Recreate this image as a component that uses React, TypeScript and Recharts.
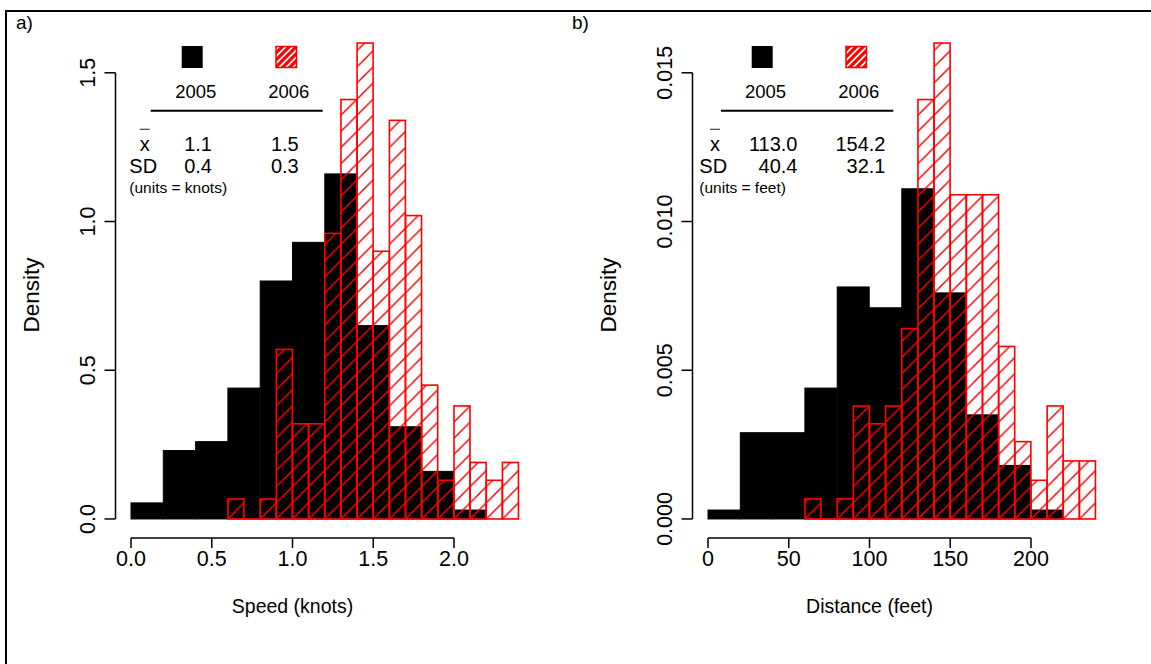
import React from "react";
import { ComposedChart, Bar, XAxis, YAxis, ReferenceLine } from "recharts";

// a) swimming speed (knots) – densities per bin
const speedEdges2005 = [0, 0.2, 0.4, 0.6, 0.8, 1.0, 1.2, 1.4, 1.6, 1.8, 2.0, 2.2];
const speedDensity2005 = [0.054, 0.23, 0.26, 0.44, 0.8, 0.93, 1.16, 0.65, 0.31, 0.16, 0.03];
const speedEdges2006 = [0.6, 0.7, 0.8, 0.9, 1.0, 1.1, 1.2, 1.3, 1.4, 1.5, 1.6, 1.7, 1.8, 1.9, 2.0, 2.1, 2.2, 2.3, 2.4];
const speedDensity2006 = [0.067, 0, 0.067, 0.57, 0.32, 0.32, 0.96, 1.41, 1.6, 0.9, 1.34, 1.02, 0.45, 0.13, 0.38, 0.19, 0.13, 0.19];
const speedTicks = [0, 0.5, 1, 1.5, 2];
const speedTickLabels = ["0.0", "0.5", "1.0", "1.5", "2.0"];
const speedDensTicks = [0, 0.5, 1, 1.5];
const speedDensLabels = ["0.0", "0.5", "1.0", "1.5"];

// b) distance (feet)
const distEdges2005 = [0, 20, 40, 60, 80, 100, 120, 140, 160, 180, 200, 220];
const distDensity2005 = [0.0003, 0.0029, 0.0029, 0.0044, 0.0078, 0.0071, 0.0111, 0.0076, 0.0035, 0.0018, 0.0003];
const distEdges2006 = [60, 70, 80, 90, 100, 110, 120, 130, 140, 150, 160, 170, 180, 190, 200, 210, 220, 230, 240];
const distDensity2006 = [0.00068, 0, 0.00068, 0.0038, 0.0032, 0.0038, 0.0064, 0.0141, 0.016, 0.0109, 0.0109, 0.0109, 0.0058, 0.0026, 0.0013, 0.0038, 0.00195, 0.00195];
const distTicks = [0, 50, 100, 150, 200];
const distTickLabels = ["0", "50", "100", "150", "200"];
const distDensTicks = [0, 0.005, 0.01, 0.015];
const distDensLabels = ["0.000", "0.005", "0.010", "0.015"];

// summary table
const years = ["2005", "2006"];
const speedMeans = ["1.1", "1.5"];
const speedSDs = ["0.4", "0.3"];
const distMeans = ["113.0", "154.2"];
const distSDs = ["40.4", "32.1"];

const W = 577;
const H = 664;
const PLOT = { left: 115.5, top: 24, width: 418.6, height: 514 };
const FONT = '"Liberation Sans", Arial, Helvetica, sans-serif';
const RED = "#ff0000";
const HATCH = 16.15;
const TICK_LABEL_BASE = 566;
const X_TITLE_BASE = 613;

type Panel = {
  key: string;
  offset: number;
  xDomain: [number, number];
  yDomain: [number, number];
  edgesBlack: number[];
  densBlack: number[];
  edgesRed: number[];
  densRed: number[];
  xTicks: number[];
  xLabels: string[];
  yTicks: number[];
  yLabels: string[];
  xTitle: string;
  tag: string;
  tagX: number;
  means: string[];
  sds: string[];
  units: string;
  box: { sqX: number[]; yearX: number[]; rule: number[]; labelX: number; xbarX: number; numRight: number[] };
};

const panels: Panel[] = [
  {
    key: "a",
    offset: 0,
    xDomain: [-0.096, 2.496],
    yDomain: [-0.064, 1.664],
    edgesBlack: speedEdges2005,
    densBlack: speedDensity2005,
    edgesRed: speedEdges2006,
    densRed: speedDensity2006,
    xTicks: speedTicks,
    xLabels: speedTickLabels,
    yTicks: speedDensTicks,
    yLabels: speedDensLabels,
    xTitle: "Speed (knots)",
    tag: "a)",
    tagX: 16,
    means: speedMeans,
    sds: speedSDs,
    units: "(units = knots)",
    box: { sqX: [181.7, 276], yearX: [195.8, 288.8], rule: [150.7, 322.7], labelX: 129.3, xbarX: 144.7, numRight: [212, 298.7] },
  },
  {
    key: "b",
    offset: 577,
    xDomain: [-9.6, 249.6],
    yDomain: [-0.00064, 0.01664],
    edgesBlack: distEdges2005,
    densBlack: distDensity2005,
    edgesRed: distEdges2006,
    densRed: distDensity2006,
    xTicks: distTicks,
    xLabels: distTickLabels,
    yTicks: distDensTicks,
    yLabels: distDensLabels,
    xTitle: "Distance (feet)",
    tag: "b)",
    tagX: 572,
    means: distMeans,
    sds: distSDs,
    units: "(units = feet)",
    box: { sqX: [751.7, 846], yearX: [765.5, 858.8], rule: [721, 893.3], labelX: 699.3, xbarX: 715, numRight: [797.5, 885.5] },
  },
];

function rows(edges: number[], dens: number[]) {
  return dens.map((d, i) => ({ bin: `${edges[i]}-${edges[i + 1]}`, lo: edges[i], d }));
}

function xPx(p: Panel, v: number) {
  const [x0, x1] = p.xDomain;
  return PLOT.left + ((v - x0) / (x1 - x0)) * PLOT.width;
}

function hatchShift(p: Panel) {
  const [y0, y1] = p.yDomain;
  const xc = xPx(p, p.edgesRed[0]);
  const yc = PLOT.top + (y1 / (y1 - y0)) * PLOT.height;
  return (xc + yc) % HATCH;
}

function Layer({ p, top }: { p: Panel; top: boolean }) {
  const edges = top ? p.edgesRed : p.edgesBlack;
  const dens = top ? p.densRed : p.densBlack;
  const [x0, x1] = p.xDomain;
  const perUnit = PLOT.width / (x1 - x0);
  const padL = (edges[0] - x0) * perUnit;
  const padR = (x1 - edges[edges.length - 1]) * perUnit;
  const yW = 60;
  const xH = 40;
  const right = W - PLOT.left - PLOT.width;
  const margin = top
    ? { left: PLOT.left - yW, top: PLOT.top, right, bottom: H - PLOT.top - PLOT.height - xH }
    : { left: PLOT.left, top: PLOT.top, right, bottom: H - PLOT.top - PLOT.height };

  const redShape = (s: any) => {
    const { x, y, width, height } = s;
    if (!(height > 0.5)) {
      return <line x1={x} x2={x + width} y1={y + (height || 0)} y2={y + (height || 0)} stroke={RED} strokeWidth={1.6} />;
    }
    return <rect x={x} y={y} width={width} height={height} fill={`url(#hatch-${p.key})`} stroke={RED} strokeWidth={1.6} />;
  };
  const blackShape = (s: any) => {
    const { x, y, width, height } = s;
    if (!(height > 0)) return <g />;
    return <rect x={x} y={y} width={width} height={height} fill="#000" stroke="#000" strokeWidth={1} />;
  };

  const xTick = (t: any) => {
    const i = p.xTicks.indexOf(t.payload.value);
    if (i < 0) return <g />;
    return (
      <text x={t.x} y={TICK_LABEL_BASE} textAnchor="middle" fontSize={21.5} fontFamily={FONT} fill="#000">
        {p.xLabels[i]}
      </text>
    );
  };
  const yTick = (t: any) => {
    const i = p.yTicks.indexOf(t.payload.value);
    if (i < 0) return <g />;
    const lx = PLOT.left - 20;
    return (
      <text x={lx} y={t.y} transform={`rotate(-90 ${lx} ${t.y})`} textAnchor="middle" fontSize={21.5} fontFamily={FONT} fill="#000">
        {p.yLabels[i]}
      </text>
    );
  };

  return (
    <ComposedChart width={W} height={H} data={rows(edges, dens)} margin={margin} barCategoryGap={0} barGap={0}>
      {top && (
        <XAxis
          xAxisId="num"
          dataKey="lo"
          type="number"
          domain={p.xDomain}
          allowDataOverflow
          height={xH}
          ticks={p.xTicks}
          interval={0}
          axisLine={false}
          tickLine={{ stroke: "#000", strokeWidth: 1.5 }}
          tickSize={10}
          tick={xTick}
        />
      )}
      <XAxis xAxisId="cat" dataKey="bin" type="category" hide height={0} padding={{ left: padL, right: padR }} />
      <YAxis
        yAxisId="y"
        type="number"
        domain={p.yDomain}
        allowDataOverflow
        hide={!top}
        width={yW}
        ticks={p.yTicks}
        interval={0}
        axisLine={false}
        tickLine={{ stroke: "#000", strokeWidth: 1.5 }}
        tickSize={11}
        tick={yTick}
      />
      {top && (
        <ReferenceLine
          xAxisId="num"
          yAxisId="y"
          segment={[
            { x: p.xTicks[0], y: p.yDomain[0] },
            { x: p.xTicks[p.xTicks.length - 1], y: p.yDomain[0] },
          ]}
          stroke="#000"
          strokeWidth={1.5}
          ifOverflow="visible"
        />
      )}
      {top && (
        <ReferenceLine
          xAxisId="num"
          yAxisId="y"
          segment={[
            { x: p.xDomain[0], y: p.yTicks[0] },
            { x: p.xDomain[0], y: p.yTicks[p.yTicks.length - 1] },
          ]}
          stroke="#000"
          strokeWidth={1.5}
          ifOverflow="visible"
        />
      )}
      <Bar
        xAxisId="cat"
        yAxisId="y"
        dataKey="d"
        isAnimationActive={false}
        shape={top ? redShape : blackShape}
      />
    </ComposedChart>
  );
}

function StatsBox({ p }: { p: Panel }) {
  const b = p.box;
  return (
    <g fontFamily={FONT} fill="#000">
      <rect x={b.sqX[0]} y={46} width={21} height={22} fill="#000" />
      <rect x={b.sqX[1]} y={46.5} width={20.5} height={21} fill="url(#legendHatch)" stroke={RED} strokeWidth={1.5} />
      {years.map((yr, i) => (
        <text key={yr} x={b.yearX[i]} y={98.3} textAnchor="middle" fontSize={18.5}>
          {yr}
        </text>
      ))}
      <line x1={b.rule[0]} x2={b.rule[1]} y1={110.7} y2={110.7} stroke="#000" strokeWidth={2} />
      <text x={b.xbarX} y={150.7} textAnchor="middle" fontSize={20}>
        x
      </text>
      <line x1={b.xbarX - 5} x2={b.xbarX + 5} y1={129.3} y2={129.3} stroke="#444" strokeWidth={1.2} />
      <text x={b.labelX} y={173.3} fontSize={20}>
        SD
      </text>
      {p.means.map((m, i) => (
        <text key={"m" + i} x={b.numRight[i]} y={150.7} textAnchor="end" fontSize={20}>
          {m}
        </text>
      ))}
      {p.sds.map((s, i) => (
        <text key={"s" + i} x={b.numRight[i]} y={173.3} textAnchor="end" fontSize={20}>
          {s}
        </text>
      ))}
      <text x={b.labelX} y={192.5} fontSize={15.5}>
        {p.units}
      </text>
    </g>
  );
}

export default function App() {
  return (
    <div style={{ position: "absolute", left: 0, top: 0, width: 1151, height: 664, overflow: "hidden", background: "#fff", fontFamily: FONT }}>
      <svg width={0} height={0} style={{ position: "absolute" }}>
        <defs>
          {panels.map((p) => (
            <pattern
              key={p.key}
              id={`hatch-${p.key}`}
              patternUnits="userSpaceOnUse"
              width={HATCH}
              height={HATCH}
              patternTransform={`translate(${hatchShift(p)} 0)`}
            >
              <path
                d={`M0 ${HATCH} L${HATCH} 0 M-2 2 L2 -2 M${HATCH - 2} ${HATCH + 2} L${HATCH + 2} ${HATCH - 2}`}
                stroke={RED}
                strokeWidth={1.5}
              />
            </pattern>
          ))}
          <pattern id="legendHatch" patternUnits="userSpaceOnUse" width={7} height={7}>
            <rect width={7} height={7} fill="#fff" />
            <path d="M0 7 L7 0 M-2 2 L2 -2 M5 9 L9 5" stroke={RED} strokeWidth={3.2} />
          </pattern>
        </defs>
      </svg>
      {panels.map((p) => (
        <React.Fragment key={p.key}>
          <div style={{ position: "absolute", left: p.offset, top: 0 }}>
            <Layer p={p} top={false} />
          </div>
          <div style={{ position: "absolute", left: p.offset, top: 0 }}>
            <Layer p={p} top={true} />
          </div>
        </React.Fragment>
      ))}
      <svg width={1151} height={664} style={{ position: "absolute", left: 0, top: 0, pointerEvents: "none" }}>
        <rect x={6} y={11} width={1200} height={700} fill="none" stroke="#000" strokeWidth={2} />
        {panels.map((p) => {
          const cx = p.offset + (xPx(p, p.xTicks[0]) + xPx(p, p.xTicks[p.xTicks.length - 1])) / 2;
          const cy = 295;
          const dx = p.offset + 39;
          return (
            <g key={p.key} fontFamily={FONT} fill="#000">
              <text x={p.tagX} y={29} fontSize={19}>
                {p.tag}
              </text>
              <text x={cx} y={X_TITLE_BASE} textAnchor="middle" fontSize={19.5}>
                {p.xTitle}
              </text>
              <text x={dx} y={cy} transform={`rotate(-90 ${dx} ${cy})`} textAnchor="middle" fontSize={22.5}>
                Density
              </text>
              <StatsBox p={p} />
            </g>
          );
        })}
      </svg>
    </div>
  );
}
